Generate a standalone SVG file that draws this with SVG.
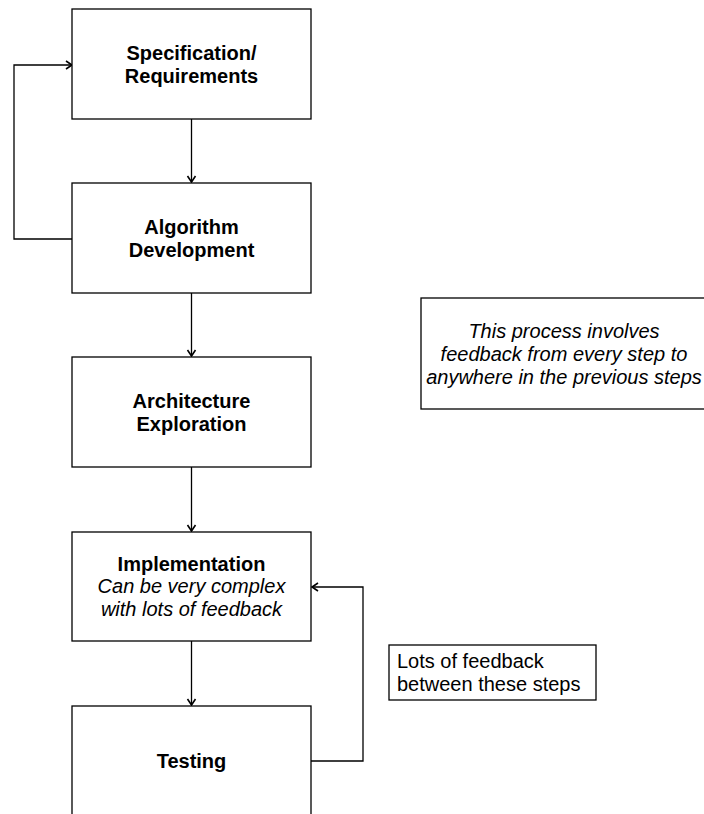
<svg xmlns="http://www.w3.org/2000/svg" width="704" height="814" viewBox="0 0 704 814">
<style>
.box{fill:#fff;stroke:#000;stroke-width:1.3}
.t{font-family:"Liberation Sans",Arial,sans-serif;font-size:20px;fill:#000;text-anchor:middle}
.b{font-weight:bold}
.i{font-style:italic}
.l{text-anchor:start}
.c{fill:none;stroke:#000;stroke-width:1.3}
</style>
<defs>
<marker id="arr" markerWidth="12" markerHeight="12" refX="9" refY="5" orient="auto" markerUnits="userSpaceOnUse" viewBox="0 0 12 10">
<polyline points="3,1 9,5 3,9" fill="none" stroke="#000" stroke-width="1.6"/>
</marker>
</defs>
<rect width="704" height="814" fill="#fff"/>
<g id="connectors">
<line class="c" x1="191.5" y1="119" x2="191.5" y2="182" marker-end="url(#arr)"/>
<line class="c" x1="191.5" y1="293" x2="191.5" y2="356" marker-end="url(#arr)"/>
<line class="c" x1="191.5" y1="467" x2="191.5" y2="531" marker-end="url(#arr)"/>
<line class="c" x1="191.5" y1="641" x2="191.5" y2="705" marker-end="url(#arr)"/>
<polyline class="c" points="72,239 14,239 14,65 72,65" marker-end="url(#arr)"/>
<polyline class="c" points="311,761 363,761 363,587 312,587" marker-end="url(#arr)"/>
</g>
<g id="spec">
<rect class="box" x="72" y="9" width="239" height="110"/>
<text class="t b" x="191.5" y="60">Specification/</text>
<text class="t b" x="191.5" y="83">Requirements</text>
</g>
<g id="algo">
<rect class="box" x="72" y="183" width="239" height="110"/>
<text class="t b" x="191.5" y="234">Algorithm</text>
<text class="t b" x="191.5" y="257">Development</text>
</g>
<g id="arch">
<rect class="box" x="72" y="357" width="239" height="110"/>
<text class="t b" x="191.5" y="408">Architecture</text>
<text class="t b" x="191.5" y="431">Exploration</text>
</g>
<g id="impl">
<rect class="box" x="72" y="532" width="239" height="109"/>
<text class="t b" x="191.5" y="571">Implementation</text>
<text class="t i" x="191.5" y="593">Can be very complex</text>
<text class="t i" x="191.5" y="616">with lots of feedback</text>
</g>
<g id="testing">
<rect class="box" x="72" y="706" width="239" height="112"/>
<text class="t b" x="191.5" y="768">Testing</text>
</g>
<g id="note1">
<rect class="box" x="421" y="298" width="290" height="111"/>
<text class="t i" x="564" y="338">This process involves</text>
<text class="t i" x="564" y="361">feedback from every step to</text>
<text class="t i" x="564" y="384">anywhere in the previous steps</text>
</g>
<g id="note2">
<rect class="box" x="389" y="645" width="207" height="55"/>
<text class="t l" x="397" y="668">Lots of feedback</text>
<text class="t l" x="397" y="691">between these steps</text>
</g>
</svg>
